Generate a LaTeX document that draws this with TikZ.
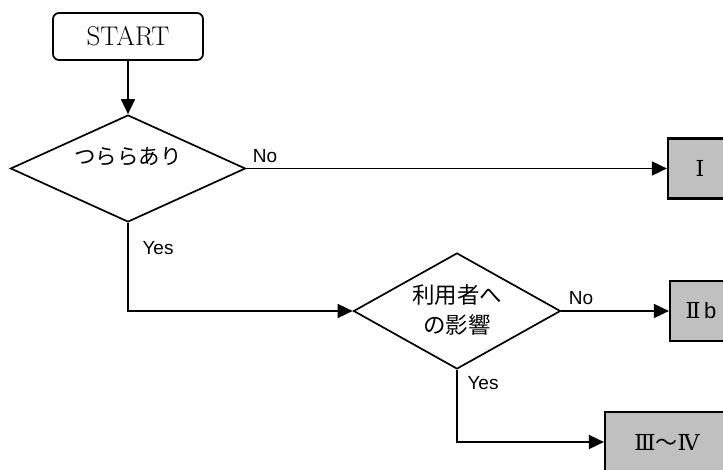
\documentclass[tikz,border=0pt]{standalone}
\usepackage{fontspec}
\newfontfamily\jp{Noto Sans CJK JP}
\newfontfamily\arialf{Liberation Sans}
\newfontfamily\romfont{DejaVu Serif}
\usetikzlibrary{shapes.geometric,arrows.meta}
\definecolor{boxgray}{RGB}{192,192,192}
\begin{document}
\begin{tikzpicture}[x=1pt,y=-1pt,
  line width=1.7pt,
  startbox/.style={draw,rounded corners=6pt,minimum width=150pt,minimum height=47pt,inner sep=0pt,font=\fontsize{27}{30}\selectfont},
  decision/.style={draw,diamond,inner sep=0pt,aspect=2},
  resultbox/.style={draw,line width=2.2pt,fill=boxgray,minimum height=60pt,inner sep=0pt,font=\romfont\fontsize{22}{26}\selectfont},
  lbl/.style={font=\arialf\fontsize{19}{22}\selectfont,inner sep=0pt},
  arr/.style={-{Triangle[length=15pt,width=14pt]}}
]
\useasboundingbox (0,0) rectangle (723,470);
\clip (0,0) rectangle (723,470);
\node[startbox] (start) at (128,36.5) {START};
\node[decision,minimum width=235pt,minimum height=107pt] (d1) at (128,168.5) {};
\node[font=\jp\fontsize{21.5}{24}\selectfont] (t1) at (128,157) {つららあり};
\node[decision,minimum width=207pt,minimum height=116pt] (d2) at (457,311) {};
\node[font=\jp\fontsize{22.5}{30}\selectfont,align=center] (t2) at (457,310) {利用者へ\\の影響};
\node[resultbox,minimum width=64pt] (r1) at (700,168.5) {Ⅰ};
\node[resultbox,minimum width=62pt] (r2) at (701,311) {Ⅱ\,{\arialf b}};
\node[resultbox,minimum width=124pt] (r3) at (667,442) {Ⅲ{\jp ～}Ⅳ};
\draw[arr] (start.south) -- (d1.north);
\draw[arr] (d1.east) -- (r1.west);
\draw[arr] (d1.south) |- (d2.west);
\draw[arr] (d2.east) -- (r2.west);
\draw[arr] (d2.south) |- (r3.west);
\node[lbl] (n1) at (265,156) {No};
\node[lbl] (y1) at (158,248) {Yes};
\node[lbl] (n2) at (581,298) {No};
\node[lbl] (y2) at (483,383) {Yes};
\end{tikzpicture}
\end{document}
